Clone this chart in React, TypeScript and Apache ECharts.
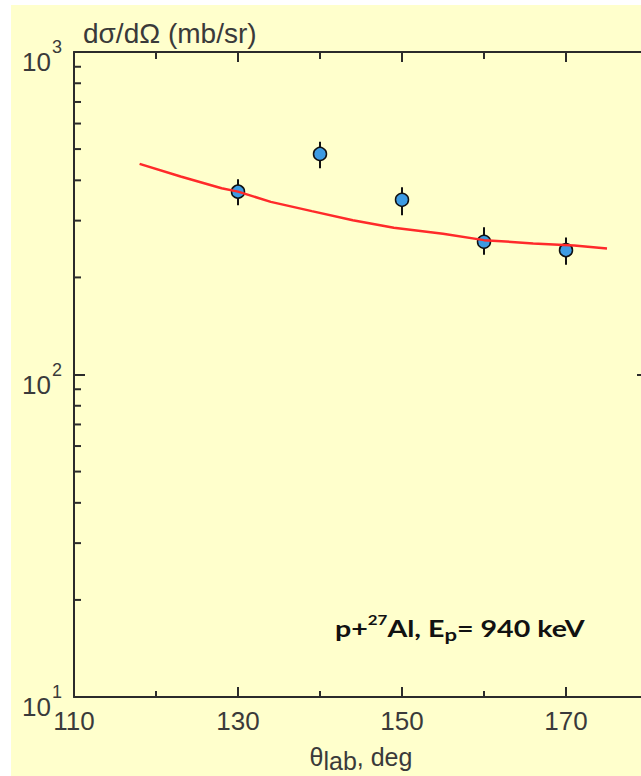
import React, { useEffect, useRef } from "react";
import * as echarts from "echarts";

// Measured cross sections
const angles = [130, 140, 150, 160, 170];
const sigma = [369, 483, 348, 258, 243];
const errLow = [335, 436, 312, 235, 219];
const errHigh = [403, 527, 381, 286, 266];

// Calculated curve
const calcAngles = [118, 123, 128, 130, 134, 139, 144, 149, 155, 160, 166, 171, 175];
const calcSigma = [450, 411, 378, 369, 343, 321, 301, 285, 273, 261, 255, 251, 246];

// Axis settings
const X_MIN = 110;
const X_MAX = 180;
const Y_MIN = 10;
const Y_MAX = 1000;
const yMinorTicks = [20, 30, 40, 50, 60, 70, 80, 90, 200, 300, 400, 500, 600, 700, 800, 900];

const FONT = "'Liberation Sans', Arial, sans-serif";
const AXIS_COLOR = "#2b2b2b";
const LABEL_COLOR = "#3a3a3a";

export default function App() {
  const ref = useRef<HTMLDivElement>(null);

  useEffect(() => {
    document.body.style.margin = "0";
    if (!ref.current) return;
    const chart = echarts.init(ref.current, null, { renderer: "svg" });

    const axisLine = { show: true, lineStyle: { color: AXIS_COLOR, width: 2 } };

    const option: any = {
      animation: false,
      backgroundColor: "#FFFFCC",
      grid: { left: 63, top: 47, width: 574, height: 645, containLabel: false, outerBoundsMode: "none" },
      xAxis: [
        {
          type: "value",
          position: "bottom",
          min: X_MIN,
          max: X_MAX,
          interval: 20,
          axisLine,
          axisTick: { show: true, inside: true, length: 10, lineStyle: { color: AXIS_COLOR, width: 2 } },
          axisLabel: {
            show: true,
            margin: 15,
            color: LABEL_COLOR,
            fontFamily: FONT,
            fontSize: 26,
            lineHeight: 18,
            formatter: (v: number) => ((v - X_MIN) % 20 === 0 ? String(v) : ""),
          },
          splitLine: { show: false },
          name: "{t|θ}{s|lab}{t|, deg}",
          nameLocation: "middle",
          nameGap: 47,
          nameTextStyle: {
            color: LABEL_COLOR,
            fontFamily: FONT,
            rich: {
              t: { fontSize: 25, lineHeight: 25, verticalAlign: "top", fontFamily: FONT, color: LABEL_COLOR },
              s: { fontSize: 25, lineHeight: 25, verticalAlign: "top", padding: [4, 0, 0, 0], fontFamily: FONT, color: LABEL_COLOR },
            },
          },
        },
        {
          type: "value",
          position: "bottom",
          min: X_MIN,
          max: X_MAX,
          interval: 10,
          axisLine: { show: false },
          axisTick: { show: true, inside: true, length: 6, lineStyle: { color: AXIS_COLOR, width: 2 } },
          axisLabel: { show: false },
          splitLine: { show: false },
        },
        {
          type: "value",
          position: "top",
          min: X_MIN,
          max: X_MAX,
          interval: 20,
          axisLine,
          axisTick: { show: true, inside: true, length: 10, lineStyle: { color: AXIS_COLOR, width: 2 } },
          axisLabel: { show: false },
          splitLine: { show: false },
        },
        {
          type: "value",
          position: "top",
          min: X_MIN,
          max: X_MAX,
          interval: 10,
          axisLine: { show: false },
          axisTick: { show: true, inside: true, length: 7, lineStyle: { color: AXIS_COLOR, width: 2 } },
          axisLabel: { show: false },
          splitLine: { show: false },
        },
      ],
      yAxis: [
        {
          type: "log",
          logBase: 10,
          position: "left",
          min: Y_MIN,
          max: Y_MAX,
          axisLine,
          axisTick: { show: true, inside: true, length: 11, lineStyle: { color: AXIS_COLOR, width: 2 } },
          axisLabel: {
            show: true,
            margin: 12,
            verticalAlign: "bottom",
            formatter: (v: number) => `{b|10}{e|${Math.round(Math.log10(v))}}`,
            rich: {
              b: { fontSize: 26, lineHeight: 14, fontFamily: FONT, color: LABEL_COLOR, verticalAlign: "top", padding: [11, 0, 0, 0] },
              e: { fontSize: 18, lineHeight: 14, fontFamily: FONT, color: LABEL_COLOR, verticalAlign: "top", padding: [0, 0, 0, 1] },
            },
          },
          splitLine: { show: false },
          name: "dσ/dΩ (mb/sr)",
          nameLocation: "end",
          nameGap: 5,
          nameTextStyle: {
            color: LABEL_COLOR,
            fontFamily: FONT,
            fontSize: 28,
            lineHeight: 28,
            align: "left",
            verticalAlign: "bottom",
            padding: [0, 0, 0, 9],
          },
        },
        {
          type: "log",
          logBase: 10,
          position: "right",
          min: Y_MIN,
          max: Y_MAX,
          axisLine,
          axisTick: { show: true, inside: true, length: 11, lineStyle: { color: AXIS_COLOR, width: 2 } },
          axisLabel: { show: false },
          splitLine: { show: false },
        },
      ],
      series: [
        {
          type: "custom",
          name: "minorTicks",
          xAxisIndex: 0,
          yAxisIndex: 0,
          silent: true,
          clip: false,
          data: yMinorTicks.map((v) => [X_MIN, v]),
          renderItem: (params: any, api: any) => {
            const v = api.value(1);
            const l = api.coord([X_MIN, v]);
            const r = api.coord([X_MAX, v]);
            const st = { stroke: AXIS_COLOR, lineWidth: 2 };
            return {
              type: "group",
              children: [
                { type: "line", shape: { x1: l[0], y1: l[1], x2: l[0] + 7, y2: l[1] }, style: st },
                { type: "line", shape: { x1: r[0], y1: r[1], x2: r[0] - 7, y2: r[1] }, style: st },
              ],
            };
          },
        },
        {
          type: "custom",
          name: "errors",
          xAxisIndex: 0,
          yAxisIndex: 0,
          silent: true,
          data: angles.map((a, i) => [a, errLow[i], errHigh[i]]),
          renderItem: (params: any, api: any) => {
            const lo = api.coord([api.value(0), api.value(1)]);
            const hi = api.coord([api.value(0), api.value(2)]);
            return {
              type: "line",
              shape: { x1: lo[0], y1: lo[1], x2: hi[0], y2: hi[1] },
              style: { stroke: "#111", lineWidth: 2 },
            };
          },
        },
        {
          type: "scatter",
          name: "data",
          xAxisIndex: 0,
          yAxisIndex: 0,
          symbol: "circle",
          symbolSize: 13,
          data: angles.map((a, i) => [a, sigma[i]]),
          itemStyle: { color: "#3D9BE3", borderColor: "#111", borderWidth: 1.5, opacity: 1 },
        },
        {
          type: "line",
          name: "calc",
          xAxisIndex: 0,
          yAxisIndex: 0,
          showSymbol: false,
          symbol: "none",
          smooth: false,
          data: calcAngles.map((a, i) => [a, calcSigma[i]]),
          lineStyle: { color: "#FF2A2A", width: 2.5 },
        },
      ],
      graphic: [
        {
          type: "text",
          x: 324,
          y: 608,
          scaleX: 1.3,
          silent: true,
          style: {
            text: "{a|p+}{s|27}{a|Al, E}{b|p}{a|= 940 keV}",
            rich: {
              a: { fontSize: 22, lineHeight: 30, fontWeight: "bold", fontFamily: "Lato, 'Open Sans', sans-serif", fill: "#111", verticalAlign: "middle" },
              s: { fontSize: 13, lineHeight: 14, fontWeight: "bold", fontFamily: "Lato, 'Open Sans', sans-serif", fill: "#111", verticalAlign: "top" },
              b: { fontSize: 17, lineHeight: 18, fontWeight: "bold", fontFamily: "Lato, 'Open Sans', sans-serif", fill: "#111", verticalAlign: "bottom" },
            },
          },
        },
      ],
    };

    chart.setOption(option);
    return () => chart.dispose();
  }, []);

  return (
    <div style={{ position: "relative", width: 641, height: 776, background: "#fff", overflow: "hidden" }}>
      <div ref={ref} style={{ position: "absolute", left: 11, top: 5, width: 645, height: 771 }} />
    </div>
  );
}
